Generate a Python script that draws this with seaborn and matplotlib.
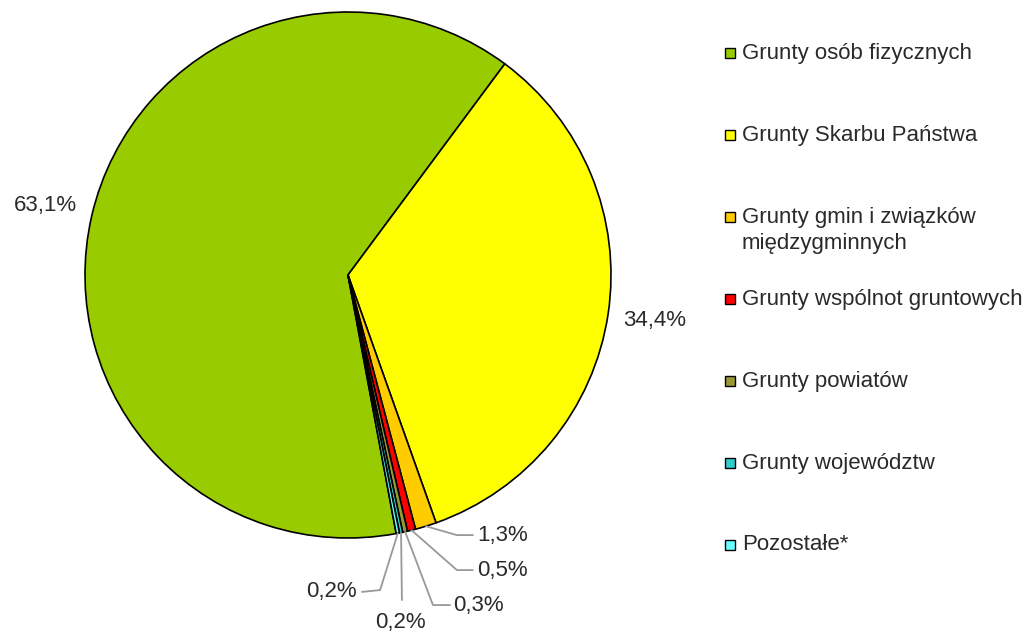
import numpy as np
import matplotlib
matplotlib.use("Agg")
import matplotlib.pyplot as plt
from matplotlib.patches import Rectangle
import seaborn as sns

# Data
categories = [
    "Grunty osób fizycznych",
    "Grunty Skarbu Państwa",
    "Grunty gmin i związków\nmiędzygminnych",
    "Grunty wspólnot gruntowych",
    "Grunty powiatów",
    "Grunty województw",
    "Pozostałe*",
]
shares = [63.1, 34.4, 1.3, 0.5, 0.3, 0.2, 0.2]
colors = ["#99CC00", "#FFFF00", "#FFCC00", "#FF0000", "#999933", "#33CCCC", "#66FFFF"]

sns.set_style("white")
plt.rcParams["font.family"] = ["Liberation Sans", "DejaVu Sans"]

W, H = 1032, 633
fig = plt.figure(figsize=(W / 100, H / 100), dpi=100)

# pie centre at (348, 275) px, radius 263 px
cx, cy, r = 348, 275, 263
ax = fig.add_axes([(cx - r) / W, (H - cy - r) / H, 2 * r / W, 2 * r / H])

start = 280.56
wedges, _ = ax.pie(shares, colors=colors, startangle=start, counterclock=False,
                   wedgeprops=dict(edgecolor="black", linewidth=1.2))
ax.set_xlim(-1, 1)
ax.set_ylim(-1, 1)
ax.set_aspect("equal")
ax.axis("off")

labels = [f"{v:.1f}".replace(".", ",") + "%" for v in shares]
mids = [np.deg2rad((w.theta1 + w.theta2) / 2) for w in wedges]

fs = 16
txt_color = "#2a2a2a"
line_color = "#999999"

# big slices: label outside along mid angle
for i in (0, 1):
    a = mids[i]
    ax.text(1.18 * np.cos(a), 1.18 * np.sin(a), labels[i], ha="center", va="center",
            fontsize=fs, color=txt_color)

# small slices: leader lines (elbow, end, text position, alignment)
leaders = {
    2: ((0.414, -0.989), (0.475, -0.989), (0.49, -0.992), "left"),
    3: ((0.414, -1.122), (0.475, -1.122), (0.49, -1.125), "left"),
    4: ((0.323, -1.255), (0.388, -1.255), (0.40, -1.258), "left"),
    5: ((0.205, -1.236), (0.205, -1.236), (0.198, -1.322), "center"),
    6: ((0.122, -1.198), (0.053, -1.205), (0.034, -1.205), "right"),
}
for i, (elbow, end, tpos, ha) in leaders.items():
    a = mids[i]
    x0, y0 = np.cos(a), np.sin(a)
    ax.plot([x0, elbow[0], end[0]], [y0, elbow[1], end[1]], color=line_color,
            lw=1.3, clip_on=False)
    ax.text(tpos[0], tpos[1], labels[i], ha=ha, va="center", fontsize=fs, color=txt_color)

# legend
leg_y0, leg_step = 53, 82
sq = 10
for k, (lab, col) in enumerate(zip(categories, colors)):
    yc = leg_y0 + k * leg_step
    fig.add_artist(Rectangle(((725) / W, (H - yc - sq / 2) / H), sq / W, sq / H,
                             transform=fig.transFigure, facecolor=col,
                             edgecolor="black", linewidth=1))
    for j, line in enumerate(lab.split("\n")):
        fig.text(742 / W, (H - yc - j * 26) / H, line, ha="left", va="center",
                 fontsize=fs, color=txt_color)

fig.savefig("out.png", dpi=100)
